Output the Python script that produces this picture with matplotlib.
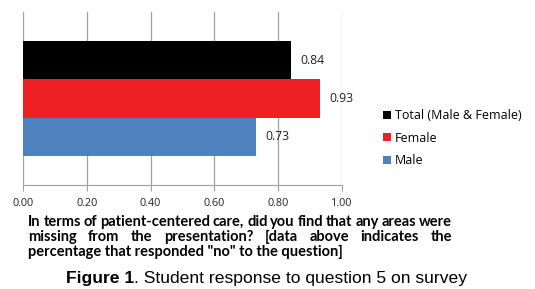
import matplotlib
matplotlib.use("Agg")
import matplotlib.pyplot as plt

series = ["Male", "Female", "Total (Male & Female)"]
values = [0.73, 0.93, 0.84]
colors = ["#4f81bd", "#ee2024", "#000000"]
xticks = [0.0, 0.2, 0.4, 0.6, 0.8, 1.0]

caption_lines = [
    "In terms of patient-centered care, did you find that any areas were",
    "missing from the presentation? [data above indicates the",
    'percentage that responded "no" to the question]',
]

W, H = 535, 289
fig = plt.figure(figsize=(W / 100, H / 100), dpi=100)
ax = fig.add_axes([23 / W, 1 - 185 / H, 319 / W, 173 / H])

for i, (v, c) in enumerate(zip(values, colors)):
    ax.barh(i, v, height=1.0, color=c, label=series[i])
    ax.text(v + 0.03, i, f"{v:.2f}", va="center", ha="left",
            fontsize=8.8, family="Open Sans", color="#222222")

ax.set_xlim(0, 1.0)
ax.set_ylim(-1.25, 3.25)
ax.set_xticks(xticks)
ax.set_xticklabels([f"{t:.2f}" for t in xticks], family="Open Sans",
                   fontsize=7.8, color="#222222")
ax.set_yticks([])
ax.grid(axis="x", color="#a0a0a0", linewidth=0.9)
ax.set_axisbelow(True)
for s in ["top", "right", "left"]:
    ax.spines[s].set_visible(False)
ax.spines["bottom"].set_color("#a0a0a0")
ax.tick_params(axis="x", length=4, color="#a0a0a0", pad=5)

# legend, reversed order like the original
handles, labels = ax.get_legend_handles_labels()
leg = fig.legend(handles[::-1], labels[::-1], loc="upper left",
                 bbox_to_anchor=(372 / W, 1 - 98 / H), frameon=False,
                 prop={"family": "Open Sans", "size": 9},
                 handlelength=0.6, handleheight=0.6, handletextpad=0.35,
                 labelspacing=0.75)

# justified bold caption
fig.canvas.draw()
r = fig.canvas.get_renderer()
x0, x1 = 28 / W, 452 / W
ys = [1 - 222 / H, 1 - 237 / H, 1 - 252 / H]
cap_kw = dict(fontsize=10.5, weight="bold", family="Lato", va="center", ha="left")
for li, (line, y) in enumerate(zip(caption_lines, ys)):
    if li == len(caption_lines) - 1:
        fig.text(x0, y, line, **cap_kw)
        continue
    words = line.split(" ")
    texts = [fig.text(0, y, w, **cap_kw) for w in words]
    widths = [t.get_window_extent(r).width / W for t in texts]
    gap = (x1 - x0 - sum(widths)) / (len(words) - 1)
    x = x0
    for t, w in zip(texts, widths):
        t.set_x(x)
        x += w + gap

t1 = fig.text(66 / W, 1 - 278 / H, "Figure 1", fontsize=12.6, weight="bold",
              family="Liberation Sans", va="center", ha="left")
wpx = t1.get_window_extent(r).width
fig.text((66 + wpx) / W, 1 - 278 / H, ". Student response to question 5 on survey",
         fontsize=12.6, family="Liberation Sans", va="center", ha="left")

fig.savefig("out.png", dpi=100)
